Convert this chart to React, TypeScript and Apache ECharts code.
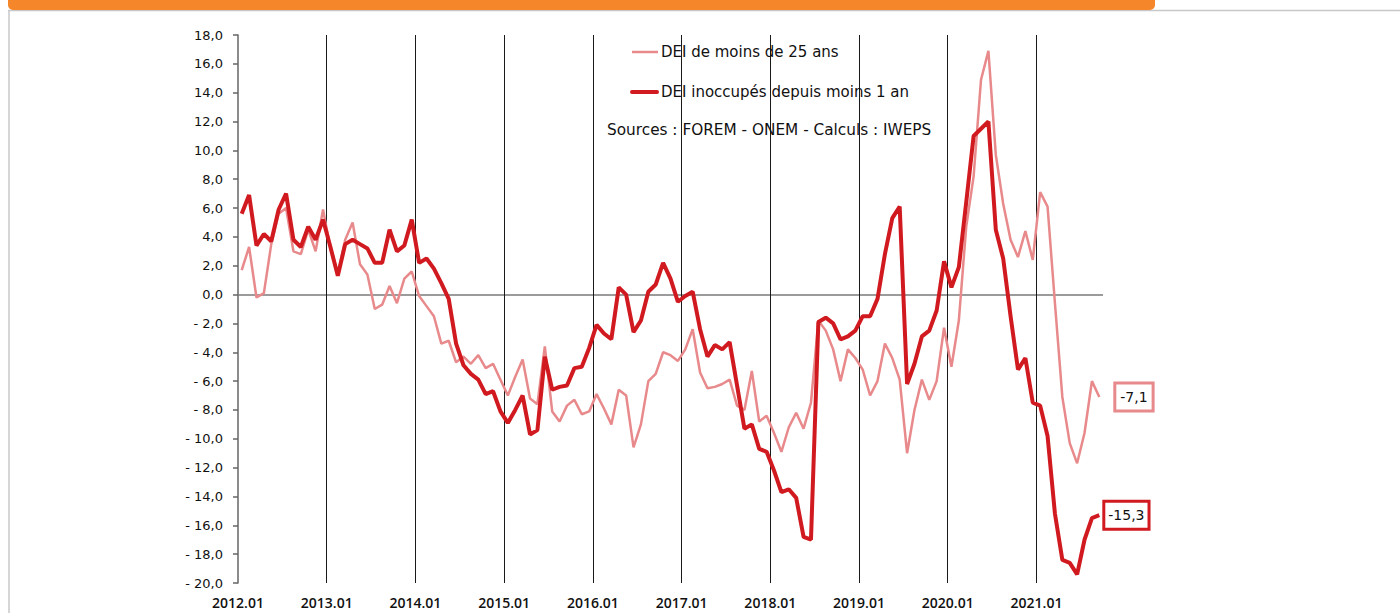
import React, { useEffect, useRef } from "react";
import * as echarts from "echarts";

const youthName = "DEI de moins de 25 ans";
const shortName = "DEI inoccupés depuis moins 1 an";
const sourceText = "Sources : FOREM - ONEM - Calculs : IWEPS";
const firstYear = 2012;

const youthValues = [
  1.7, 3.3, -0.2, 0.1, 3.5, 5.6, 6.0, 3.0, 2.8, 4.5, 3.0, 5.9,
  3.2, 1.5, 3.8, 5.0, 2.1, 1.4, -1.0, -0.7, 0.6, -0.6, 1.1, 1.6,
  -0.1, -0.8, -1.5, -3.4, -3.2, -4.7, -4.3, -4.8, -4.2, -5.1, -4.8, -5.9,
  -7.0, -5.7, -4.5, -7.2, -7.6, -3.6, -8.1, -8.8, -7.7, -7.3, -8.3, -8.1,
  -6.9, -7.9, -9.0, -6.6, -7.0, -10.6, -9.0, -6.0, -5.5, -4.0, -4.2, -4.6,
  -3.8, -2.4, -5.4, -6.5, -6.4, -6.2, -5.9, -7.7, -8.0, -5.3, -8.8, -8.4,
  -9.6, -10.9, -9.2, -8.2, -9.3, -7.5, -1.8, -2.5, -3.8, -6.0, -3.8, -4.4,
  -5.2, -7.0, -6.0, -3.4, -4.4, -5.9, -11.0, -8.0, -5.9, -7.3, -6.0, -2.3,
  -5.0, -1.8, 4.7, 8.2, 14.9, 16.9, 9.7, 6.3, 3.8, 2.6, 4.4, 2.4,
  7.1, 6.1, -0.6, -7.1, -10.3, -11.7, -9.6, -6.0, -7.1,
];

const shortValues = [
  5.6, 6.9, 3.4, 4.2, 3.7, 5.9, 7.0, 3.8, 3.3, 4.7, 3.8, 5.2,
  3.3, 1.3, 3.5, 3.8, 3.5, 3.2, 2.2, 2.2, 4.5, 3.0, 3.4, 5.2,
  2.2, 2.5, 1.8, 0.8, -0.3, -3.4, -4.9, -5.5, -5.9, -6.9, -6.7, -8.1,
  -8.9, -8.0, -7.0, -9.7, -9.4, -4.3, -6.6, -6.4, -6.3, -5.1, -5.0, -3.7,
  -2.1, -2.7, -3.1, 0.5, 0.0, -2.6, -1.8, 0.2, 0.7, 2.2, 1.1, -0.5,
  -0.1, 0.2, -2.4, -4.3, -3.5, -3.8, -3.3, -6.3, -9.3, -9.0, -10.7, -10.9,
  -12.2, -13.7, -13.5, -14.1, -16.8, -17.0, -1.9, -1.6, -2.0, -3.1, -2.9, -2.5,
  -1.5, -1.5, -0.3, 2.8, 5.3, 6.1, -6.2, -4.8, -2.9, -2.5, -1.1, 2.3,
  0.5, 1.9, 6.4, 11.0, 11.5, 12.0, 4.5, 2.5, -1.5, -5.2, -4.4, -7.5,
  -7.7, -9.8, -15.2, -18.4, -18.6, -19.4, -17.0, -15.5, -15.3,
];

const yearBoundaries = [12, 24, 36, 48, 60, 72, 84, 96, 108];

const FONT = "'Open Sans', 'Noto Sans', sans-serif";
const WIDE = "'DejaVu Sans', 'Open Sans', sans-serif";
const PINK = "#e8898b";
const RED = "#d11a20";

function fmtComma(v: number): string {
  const s = Math.abs(v).toFixed(1).replace(".", ",");
  return v < 0 ? "-" + s : s;
}

function toPairs(vals: number[]): number[][] {
  return vals.map((v, i) => [i + 0.5, v]);
}

export default function App() {
  const ref = useRef<HTMLDivElement>(null);

  useEffect(() => {
    if (!ref.current) return;
    const chart = echarts.init(ref.current, null, { renderer: "svg" });
    const nMonths = shortValues.length + 0.1;

    const markLineData: any[] = [
      {
        yAxis: 0,
        lineStyle: { color: "#7a7a7a", width: 1.5, type: "solid" },
      },
      ...yearBoundaries.map((b) => ({
        xAxis: b,
        lineStyle: { color: "#1a1a1a", width: 1, type: "solid" },
      })),
    ];

    const legendText = {
      fontSize: 15,
      fontWeight: "normal",
      fill: "#111",
      fontFamily: WIDE,
    };

    chart.setOption({
      animation: false,
      backgroundColor: "#ffffff",
      textStyle: { fontFamily: FONT },
      grid: { left: 238, right: 297, top: 35, bottom: 30, containLabel: false },
      xAxis: {
        type: "value",
        min: 0,
        max: Math.round(nMonths),
        interval: 12,
        axisLine: { show: false },
        axisTick: { show: false },
        splitLine: { show: false },
        axisLabel: {
          fontSize: 14,
          fontWeight: 600,
          color: "#111",
          fontFamily: FONT,
          margin: 12,
          showMaxLabel: false,
          formatter: (v: number) =>
            v % 12 === 0 ? `${firstYear + v / 12}.01` : "",
        },
      },
      yAxis: {
        type: "value",
        min: -20,
        max: 18,
        interval: 2,
        axisLine: { show: true, lineStyle: { color: "#666", width: 1.5 } },
        axisTick: { show: true, length: 5, lineStyle: { color: "#666", width: 1.5 } },
        splitLine: { show: false },
        axisLabel: {
          fontSize: 13,
          fontWeight: "normal",
          color: "#111",
          fontFamily: WIDE,
          margin: 15,
          formatter: (v: number) => {
            const s = Math.abs(v).toFixed(1).replace(".", ",");
            return v < 0 ? "- " + s : s;
          },
        },
      },
      series: [
        {
          name: youthName,
          type: "line",
          data: toPairs(youthValues),
          symbol: "none",
          lineStyle: { color: PINK, width: 2.5 },
          itemStyle: { color: PINK },
          z: 3,
          markLine: {
            silent: true,
            symbol: "none",
            label: { show: false },
            data: markLineData,
            z: 1,
          },
          endLabel: {
            show: true,
            distance: 17,
            formatter: (p: any) => fmtComma(p.value[1]),
            backgroundColor: "#fff",
            borderColor: PINK,
            borderWidth: 3,
            padding: [6, 4, 5, 4],
            fontSize: 14,
            fontWeight: "normal",
            color: "#111",
            fontFamily: WIDE,
          },
        },
        {
          name: shortName,
          type: "line",
          data: toPairs(shortValues),
          symbol: "none",
          lineStyle: { color: RED, width: 4 },
          itemStyle: { color: RED },
          z: 4,
          endLabel: {
            show: true,
            distance: 6,
            formatter: (p: any) => fmtComma(p.value[1]),
            backgroundColor: "#fff",
            borderColor: RED,
            borderWidth: 3,
            padding: [6, 3, 5, 3],
            fontSize: 14,
            fontWeight: "normal",
            color: "#111",
            fontFamily: WIDE,
          },
        },
      ],
      graphic: [
        {
          type: "rect",
          shape: { x: 8, y: -6, width: 1147, height: 16, r: 5 },
          style: { fill: "#f5862a" },
          z: 10,
        },
        {
          type: "line",
          shape: { x1: 8, y1: 10.5, x2: 1400, y2: 10.5 },
          style: { stroke: "#c8c8c8", lineWidth: 1.5 },
          z: 9,
        },
        {
          type: "line",
          shape: { x1: 9, y1: 10, x2: 9, y2: 613 },
          style: { stroke: "#c8c8c8", lineWidth: 1.5 },
          z: 9,
        },
        {
          type: "line",
          shape: { x1: 632, y1: 52, x2: 658, y2: 52 },
          style: { stroke: PINK, lineWidth: 2.5 },
          z: 9,
        },
        {
          type: "text",
          x: 661,
          y: 52,
          style: { ...legendText, text: youthName, verticalAlign: "middle" },
          z: 9,
        },
        {
          type: "line",
          shape: { x1: 632, y1: 92, x2: 657, y2: 92 },
          style: { stroke: RED, lineWidth: 4, lineCap: "round" },
          z: 9,
        },
        {
          type: "text",
          x: 661,
          y: 92,
          style: { ...legendText, text: shortName, verticalAlign: "middle" },
          z: 9,
        },
        {
          type: "text",
          x: 607,
          y: 130,
          style: { ...legendText, fontSize: 15.3, text: sourceText, verticalAlign: "middle" },
          z: 9,
        },
      ],
    });

    return () => chart.dispose();
  }, []);

  return (
    <div
      ref={ref}
      style={{ position: "absolute", left: 0, top: 0, width: 1400, height: 613 }}
    />
  );
}
